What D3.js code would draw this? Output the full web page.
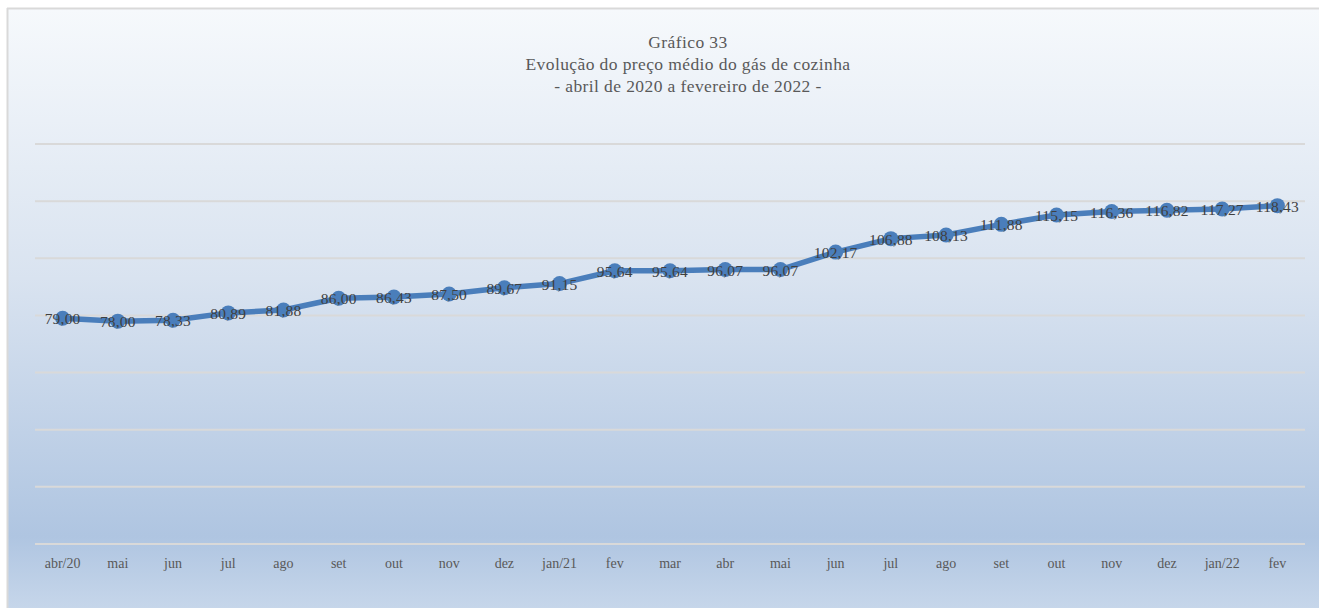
<!DOCTYPE html>
<html>
<head>
<meta charset="utf-8">
<script src="https://cdn.jsdelivr.net/npm/d3@7"></script>
<style>
  html, body { margin: 0; padding: 0; background: #ffffff; }
  svg { display: block; }
  text { font-family: "Liberation Serif", "DejaVu Serif", serif; }
</style>
</head>
<body>
<svg id="chart" width="1319" height="608"></svg>
<script>
const categories = ["abr/20","mai","jun","jul","ago","set","out","nov","dez","jan/21","fev","mar","abr","mai","jun","jul","ago","set","out","nov","dez","jan/22","fev"];
const values = [79.00, 78.00, 78.33, 80.89, 81.88, 86.00, 86.43, 87.50, 89.67, 91.15, 95.64, 95.64, 96.07, 96.07, 102.17, 106.88, 108.13, 111.88, 115.15, 116.36, 116.82, 117.27, 118.43];
const yTicks = [0, 20, 40, 60, 80, 100, 120, 140];
const titleLines = ["Gráfico 33", "Evolução do preço médio do gás de cozinha", "- abril de 2020 a fevereiro de 2022 -"];

const svg = d3.select("#chart");
const W = 1319, H = 608;

const defs = svg.append("defs");
const grad = defs.append("linearGradient").attr("id", "bg").attr("x1", 0).attr("y1", 0).attr("x2", 0).attr("y2", 1);
grad.append("stop").attr("offset", "0%").attr("stop-color", "#f6f9fc");
grad.append("stop").attr("offset", "45%").attr("stop-color", "#d9e3f0");
grad.append("stop").attr("offset", "88%").attr("stop-color", "#afc5e1");
grad.append("stop").attr("offset", "100%").attr("stop-color", "#c6d6ea");

// chart area background + border
svg.append("rect").attr("x", 8).attr("y", 9).attr("width", W - 8).attr("height", H - 9)
  .attr("fill", "url(#bg)");
svg.append("line").attr("x1", 7.5).attr("x2", 7.5).attr("y1", 8).attr("y2", H).attr("stroke", "#d9d9d9").attr("stroke-width", 2);
svg.append("line").attr("x1", 7).attr("x2", W).attr("y1", 8.5).attr("y2", 8.5).attr("stroke", "#d9d9d9").attr("stroke-width", 2);

const plot = { left: 35, right: 1305, top: 144, bottom: 544 };

const x = d3.scaleBand().domain(d3.range(categories.length)).range([plot.left, plot.right]);
const y = d3.scaleLinear().domain([0, 140]).range([plot.bottom, plot.top]);

// gridlines
svg.append("g").selectAll("line").data(yTicks).join("line")
  .attr("x1", plot.left).attr("x2", plot.right)
  .attr("y1", d => y(d)).attr("y2", d => y(d))
  .attr("stroke", "#d9d9d9").attr("stroke-width", 2);

// x axis labels
const xAxis = d3.axisBottom(x).tickSize(0).tickPadding(14).tickFormat(i => categories[i]);
const gx = svg.append("g").attr("transform", `translate(0,${plot.bottom})`).call(xAxis);
gx.select(".domain").remove();
gx.selectAll("text").attr("font-size", 14).attr("fill", "#595959")
  .style("font-family", '"Liberation Serif", serif');

// line
const line = d3.line().x((d, i) => x(i) + x.bandwidth() / 2).y(d => y(d));
svg.append("path").datum(values).attr("d", line)
  .attr("fill", "none").attr("stroke", "#4a7ebb").attr("stroke-width", 5.5)
  .attr("stroke-linejoin", "round").attr("stroke-linecap", "round");

// markers
svg.append("g").selectAll("circle").data(values).join("circle")
  .attr("cx", (d, i) => x(i) + x.bandwidth() / 2).attr("cy", d => y(d))
  .attr("r", 7.5).attr("fill", "#4a7ebb");

// labels
const fmt = v => v.toFixed(2).replace(".", ",");
svg.append("g").selectAll("text").data(values).join("text")
  .attr("x", (d, i) => x(i) + x.bandwidth() / 2).attr("y", d => y(d) + 6)
  .attr("text-anchor", "middle").attr("font-size", 15.5).attr("letter-spacing", 0.2).attr("fill", "#404040")
  .text(d => fmt(d));

// title
svg.append("g").selectAll("text").data(titleLines).join("text")
  .attr("x", 688).attr("y", (d, i) => 48 + i * 22)
  .attr("text-anchor", "middle").attr("font-size", 17.5).attr("letter-spacing", 0.4).attr("fill", "#595959")
  .text(d => d);
</script>
</body>
</html>
